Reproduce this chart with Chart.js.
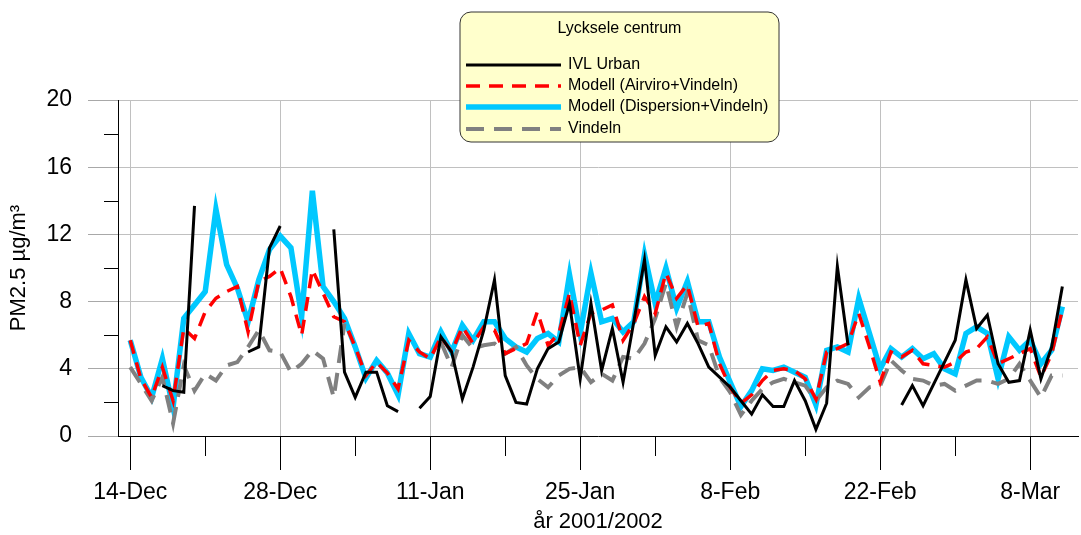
<!DOCTYPE html>
<html>
<head>
<meta charset="utf-8">
<style>
  html, body { margin: 0; padding: 0; background: #fff; }
  #wrap { width: 1081px; height: 535px; position: relative; }
  canvas { display: block; }
</style>
<script src="https://cdn.jsdelivr.net/npm/chart.js@4.4.1/dist/chart.umd.min.js"></script>
</head>
<body>
<div id="wrap"><canvas id="c" width="1081" height="535"></canvas></div>
<script>
// Day offsets from 14-Dec-2001 (88 days, to 11-Mar-2002)
const days = Array.from({ length: 88 }, (_, i) => i);

// Tick labels (every 14 days)
const tickDays = [0, 14, 28, 42, 56, 70, 84];
const tickLabels = ['14-Dec', '28-Dec', '11-Jan', '25-Jan', '8-Feb', '22-Feb', '8-Mar'];
const minorTickDays = [7, 21, 35, 49, 63, 77];
const yMinorTicks = [2, 6, 10, 14, 18];

const seriesNames = ['IVL Urban', 'Modell (Airviro+Vindeln)', 'Modell (Dispersion+Vindeln)', 'Vindeln'];

const ivlUrban = [
  null, null, null, 3.0, 2.7, 2.6, 13.7, null, null, null,
  null, 5.0, 5.3, 11.2, 12.5, null, null, null, null, 12.3,
  3.8, 2.3, 3.8, 3.8, 1.8, 1.45, null, 1.65, 2.35, 5.9,
  5.0, 2.2, 4.1, 6.3, 9.3, 3.6, 2.0, 1.9, 4.0, 5.2,
  5.6, 7.9, 3.4, 7.9, 3.9, 6.4, 3.2, 6.8, 10.5, 4.8,
  6.5, 5.6, 6.7, 5.5, 4.1, 3.5, 2.9, 2.1, 1.3, 2.45,
  1.75, 1.75, 3.3, 2.1, 0.4, 1.95, 10.1, 5.4, null, null,
  null, null, 1.85, 3.0, 1.8, 3.1, 4.4, 5.7, 9.3, 6.4,
  7.2, 4.3, 3.2, 3.3, 6.3, 3.4, 5.3, 8.9
];

const modellAirviro = [
  5.7, 3.4, 2.3, 4.1, 2.1, 6.4, 5.8, 7.4, 8.2, 8.6,
  8.9, 6.2, 9.2, 9.5, 10.0, 8.3, 6.0, 9.9, 8.5, 7.1,
  6.8, 5.3, 3.6, 4.4, 3.75, 2.8, 5.7, 5.0, 4.6, 5.9,
  5.0, 6.5, 5.5, 6.5, 6.3, 4.9, 5.2, 5.5, 7.4, 5.4,
  6.1, 8.5, 5.4, 7.3, 7.5, 7.8, 5.7, 6.7, 8.3, 7.3,
  9.7, 8.2, 9.0, 6.5, 6.7, 4.3, 2.9, 1.95, 2.45, 3.3,
  3.9, 4.0, 3.9, 3.4, 2.2, 5.0, 5.2, 5.5, 7.3, 5.3,
  3.2, 5.0, 4.7, 5.1, 4.3, 4.2, 4.1, 4.4, 5.0, 5.2,
  5.9, 4.3, 4.6, 4.9, 5.2, 3.5, 4.9, 7.5
];

const modellDispersion = [
  5.7, 3.5, 2.3, 4.6, 1.7, 7.0, 7.8, 8.6, 13.5, 10.2,
  8.8, 6.8, 9.3, 11.1, 11.9, 11.2, 7.1, 14.6, 8.9, 8.0,
  7.0, 5.3, 3.45, 4.5, 3.75, 2.45, 6.1, 4.9, 4.7, 6.2,
  5.0, 6.6, 5.7, 6.8, 6.8, 5.8, 5.3, 5.0, 5.8, 6.1,
  5.6, 9.6, 6.1, 9.7, 6.8, 7.0, 6.2, 6.8, 10.8, 7.9,
  10.0, 7.6, 9.2, 6.8, 6.8, 4.7, 3.2, 1.75, 2.7, 4.0,
  3.9, 4.1, 3.8, 3.5, 1.85, 5.1, 5.3, 5.0, 8.2, 6.1,
  4.0, 5.2, 4.7, 5.2, 4.6, 4.9, 4.0, 3.7, 6.1, 6.5,
  6.1, 3.4, 5.9, 5.1, 5.7, 4.3, 5.1, 7.7
];

const vindeln = [
  4.1, 3.1, 2.1, 3.5, 0.75, 4.2, 2.7, 3.7, 3.3, 4.2,
  4.4, 5.3, 6.3, 5.1, 5.0, 3.8, 4.3, 5.1, 4.6, 2.3,
  6.7, null, null, null, null, null, null, null, null, 5.6,
  4.1, 6.0, 5.2, 5.4, 5.5, 4.9, 5.3, 4.2, 3.4, 2.9,
  3.6, 4.0, 4.1, 3.2, 3.7, 3.3, 4.7, 4.6, 5.5, 7.0,
  9.1, 6.5, 8.5, 5.7, 5.4, 3.5, 2.6, 1.25, 2.1, 2.8,
  3.2, 3.4, 3.2, 3.0, 2.1, 2.9, 3.3, 3.1, 2.3, 2.9,
  3.0, 4.5, 3.9, 3.4, 3.3, 3.0, 3.1, 2.7, 3.0, 3.3,
  3.3, 3.1, 3.4, 4.3, 3.3, 2.3, 3.6, 3.6
];

const toPoints = arr => days.map((d, i) => ({ x: d, y: arr[i] }));

const FONT = '"Liberation Sans", Arial, sans-serif';

const datasets = [
  { label: seriesNames[0], data: toPoints(ivlUrban), borderColor: '#000000', borderWidth: 3, order: 0 },
  { label: seriesNames[1], data: toPoints(modellAirviro), borderColor: '#ff0000', borderWidth: 3.5, borderDash: [14, 9], order: 1 },
  { label: seriesNames[2], data: toPoints(modellDispersion), borderColor: '#00c8ff', borderWidth: 5.5, order: 3 },
  { label: seriesNames[3], data: toPoints(vindeln), borderColor: '#808080', borderWidth: 4, borderDash: [18, 10], order: 2 }
].map(ds => Object.assign({ pointRadius: 0, pointHoverRadius: 0, fill: false, tension: 0, spanGaps: false, backgroundColor: ds.borderColor }, ds));

const whiteBg = {
  id: 'whiteBg',
  beforeDraw(chart) {
    const ctx = chart.ctx;
    ctx.save();
    ctx.fillStyle = '#ffffff';
    ctx.fillRect(0, 0, chart.width, chart.height);
    ctx.restore();
  }
};

const minorTicks = {
  id: 'minorTicks',
  afterDraw(chart) {
    const ctx = chart.ctx;
    const xs = chart.scales.x, ys = chart.scales.y;
    const area = chart.chartArea;
    ctx.save();
    ctx.strokeStyle = '#000';
    ctx.lineWidth = 1;
    ctx.beginPath();
    yMinorTicks.forEach(v => {
      const py = Math.round(ys.getPixelForValue(v)) + 0.5;
      ctx.moveTo(area.left - 14, py);
      ctx.lineTo(area.left, py);
    });
    minorTickDays.forEach(d => {
      const px = Math.round(xs.getPixelForValue(d)) + 0.5;
      ctx.moveTo(px, area.bottom);
      ctx.lineTo(px, area.bottom + 20);
    });
    ctx.stroke();
    ctx.restore();
  }
};

const legendBox = {
  id: 'legendBox',
  afterDraw(chart) {
    const ctx = chart.ctx;
    const bx = 460, by = 12, bw = 319, bh = 130, r = 11;
    ctx.save();
    ctx.beginPath();
    ctx.moveTo(bx + r, by);
    ctx.lineTo(bx + bw - r, by);
    ctx.arcTo(bx + bw, by, bx + bw, by + r, r);
    ctx.lineTo(bx + bw, by + bh - r);
    ctx.arcTo(bx + bw, by + bh, bx + bw - r, by + bh, r);
    ctx.lineTo(bx + r, by + bh);
    ctx.arcTo(bx, by + bh, bx, by + bh - r, r);
    ctx.lineTo(bx, by + r);
    ctx.arcTo(bx, by, bx + r, by, r);
    ctx.closePath();
    ctx.fillStyle = '#ffffcc';
    ctx.fill();
    ctx.strokeStyle = '#333333';
    ctx.lineWidth = 1;
    ctx.stroke();

    ctx.fillStyle = '#000';
    ctx.textBaseline = 'middle';
    ctx.textAlign = 'center';
    ctx.font = '16px ' + FONT;
    ctx.fillText('Lycksele centrum', bx + bw / 2, 29);

    const rows = [65, 86, 107, 129];
    const legendOrder = [0, 1, 2, 3];
    ctx.textAlign = 'left';
    legendOrder.forEach((idx, k) => {
      const ds = chart.data.datasets[idx];
      const y = rows[k];
      ctx.save();
      ctx.strokeStyle = ds.borderColor;
      ctx.lineWidth = ds.borderWidth;
      ctx.setLineDash(ds.borderDash || []);
      ctx.beginPath();
      ctx.moveTo(466, y);
      ctx.lineTo(561, y);
      ctx.stroke();
      ctx.restore();
      ctx.fillStyle = '#000';
      ctx.font = '16px ' + FONT;
      ctx.fillText(ds.label, 568, y);
    });
    ctx.restore();
  }
};

new Chart(document.getElementById('c'), {
  type: 'line',
  data: { datasets },
  options: {
    responsive: false,
    animation: false,
    devicePixelRatio: 1,
    layout: { padding: { top: 100, right: 3, left: 0, bottom: 0 } },
    plugins: {
      legend: { display: false },
      tooltip: { enabled: false },
      title: { display: false }
    },
    scales: {
      x: {
        type: 'linear',
        min: -1.14,
        max: 88.46,
        afterBuildTicks(scale) { scale.ticks = tickDays.map(v => ({ value: v })); },
        afterFit(scale) { scale.height = 99; },
        ticks: {
          autoSkip: false,
          maxRotation: 0,
          minRotation: 0,
          padding: 9,
          color: '#000',
          font: { family: FONT, size: 23 },
          callback: (v, i) => tickLabels[i]
        },
        grid: { color: '#c0c0c0', lineWidth: 1, tickLength: 34, tickColor: '#000', drawTicks: true },
        border: { color: '#000', width: 1 },
        title: {
          display: true,
          text: 'år 2001/2002',
          color: '#000',
          font: { family: FONT, size: 22 },
          padding: { top: 0, bottom: 0 }
        }
      },
      y: {
        min: 0,
        max: 20,
        afterFit(scale) { scale.width = 118; },
        ticks: {
          stepSize: 4,
          padding: 16,
          color: '#000',
          font: { family: FONT, size: 23 }
        },
        grid: { color: '#c0c0c0', lineWidth: 1, tickLength: 30, tickColor: '#a8a8a8' },
        border: { color: '#000', width: 1 },
        title: {
          display: true,
          text: 'PM2.5 µg/m³',
          color: '#000',
          font: { family: FONT, size: 22 },
          padding: { top: 6, bottom: 4 }
        }
      }
    }
  },
  plugins: [whiteBg, minorTicks, legendBox]
});
</script>
</body>
</html>
